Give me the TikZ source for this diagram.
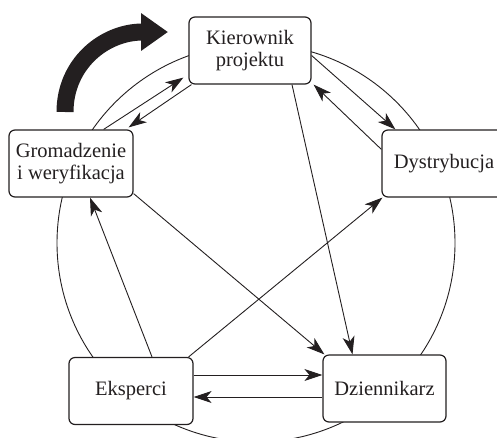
\documentclass[tikz,border=0pt]{standalone}
\usepackage{fontspec}
\setmainfont{Liberation Serif}
\usepackage{xcolor}
\definecolor{Ink}{HTML}{231F20}
\usepackage{tikz}
\usetikzlibrary{arrows.meta,calc}
\tikzset{
  role/.style={draw=Ink,fill=white,rounded corners=6pt,line width=1.2pt,
    minimum width=124pt,minimum height=67pt,align=center,text=Ink,
    font=\fontsize{20.5}{22}\selectfont,inner sep=2pt},
  link/.style={-{Stealth[length=18pt,width=12pt,inset=5pt]},line width=.9pt,draw=Ink},
  ring/.style={line width=.9pt,draw=Ink},
  turn/.style={-{Triangle[length=27pt,width=36pt]},line width=17pt,draw=Ink}
}

\begin{document}
\begin{tikzpicture}[x=1pt,y=-1pt]
\clip (0,0) rectangle (497,437);
% circle behind the boxes
\draw[ring] (256,243) circle[radius=199pt];
% big turning arrow
\draw[turn] (65,112) .. controls (65,64) and (104,32) .. (168,32);
% roles
\node[role,minimum width=122pt] (kier) at (250,50.5) {Kierownik\\projektu};
\node[role] (grom) at (71,163.5) {Gromadzenie\\i weryfikacja};
\node[role] (dyst) at (444,163.5) {Dystrybucja};
\node[role] (eksp) at (131,391) {Eksperci};
\node[role,minimum width=123pt] (dzien) at (384.5,388.5) {Dziennikarz};
% links
\draw[link] ([xshift=-30pt]grom.north east) -- ([shift={(-5pt,7pt)}]kier.south west);
\draw[link] ([xshift=3pt]kier.south west) -- ([shift={(-5pt,2pt)}]grom.north east);
\draw[link] ([yshift=-5pt]kier.east) -- ([xshift=14pt]dyst.north west);
\draw[link] ([yshift=-20pt]dyst.north west) -- ([xshift=2pt]kier.south east);
\draw[link] ([xshift=42pt]kier.south) -- ([xshift=-32pt]dzien.north);
\draw[link] ([yshift=4pt]grom.south east) -- ([xshift=2pt]dzien.north west);
\draw[link] ([xshift=21pt]eksp.north) -- ([xshift=19pt]grom.south);
\draw[link] ([xshift=-5pt]eksp.north east) -- ([xshift=1pt]dyst.south west);
\coordinate (up) at ([yshift=16pt]eksp.east);
\coordinate (lo) at ([yshift=-6pt]eksp.east);
\draw[link] (up) -- (up -| dzien.west);
\draw[link] (lo -| dzien.west) -- (lo);
\end{tikzpicture}
\end{document}
